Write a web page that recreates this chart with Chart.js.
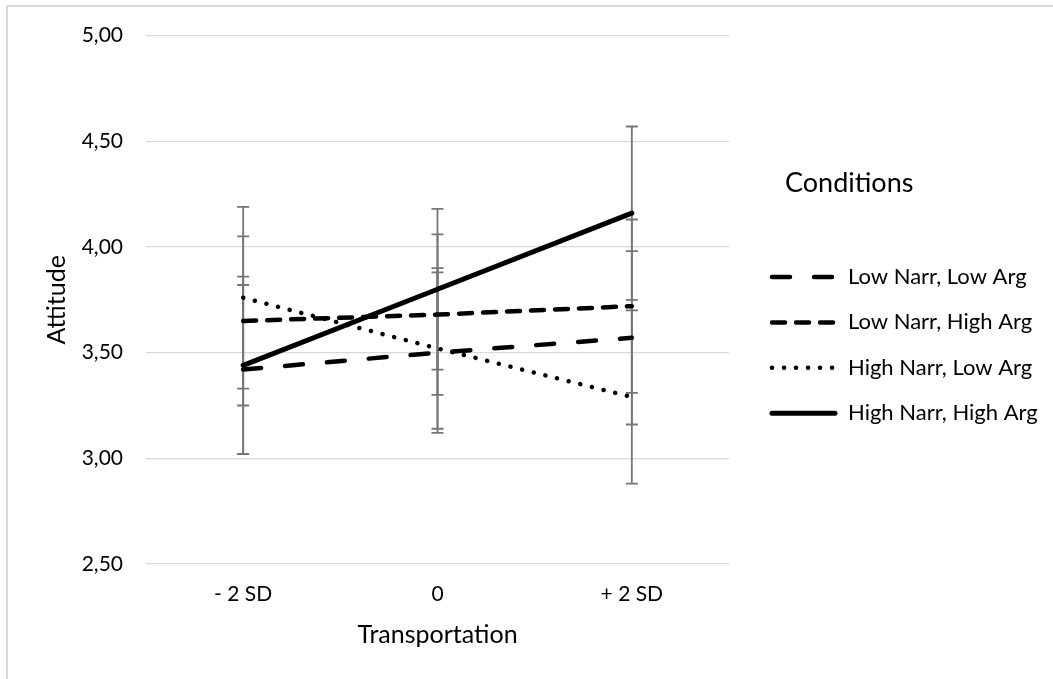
<!DOCTYPE html>
<html lang="en">
<head>
    <meta charset="UTF-8">
    <title>Attitude by Transportation</title>
    <script src="https://cdn.jsdelivr.net/npm/chart.js"></script>
    <style>
        html, body {
            margin: 0;
            padding: 0;
            background: #ffffff;
            overflow: hidden;
        }
        .frame {
            position: absolute;
            left: 6px;
            top: 5px;
            width: 1200px;
            height: 800px;
            border-left: 2px solid #d9d9d9;
            border-top: 2px solid #d9d9d9;
        }
        .chart {
            position: absolute;
            left: 0;
            top: 0;
            width: 1053px;
            height: 679px;
        }
    </style>
</head>
<body>
    <div class="frame"></div>
    <div class="chart">
        <canvas id="attitudeChart" width="1053" height="679"></canvas>
    </div>
    <script>
        const categories = ['- 2 SD', '0', '+ 2 SD'];
        const seriesNames = ['Low Narr, Low Arg', 'Low Narr, High Arg', 'High Narr, Low Arg', 'High Narr, High Arg'];

        const lowNarrLowArg = [3.42, 3.50, 3.57];
        const lowNarrHighArg = [3.65, 3.68, 3.72];
        const highNarrLowArg = [3.76, 3.52, 3.29];
        const highNarrHighArg = [3.44, 3.80, 4.16];

        // error bar half-widths (+/-)
        const lowNarrLowArgErr = [0.40, 0.38, 0.41];
        const lowNarrHighArgErr = [0.40, 0.38, 0.41];
        const highNarrLowArgErr = [0.43, 0.38, 0.41];
        const highNarrHighArgErr = [0.42, 0.38, 0.41];

        const yTicks = [2.5, 3.0, 3.5, 4.0, 4.5, 5.0];

        const FONT = 'Lato, "Open Sans", sans-serif';
        Chart.defaults.font.family = FONT;
        Chart.defaults.color = '#000000';

        // vertical error bars, drawn under the lines
        const errorBars = {
            id: 'errorBars',
            beforeDatasetsDraw(chart) {
                const ctx = chart.ctx;
                const yScale = chart.scales.y;
                ctx.save();
                ctx.strokeStyle = '#767676';
                ctx.lineWidth = 1.8;
                chart.data.datasets.forEach((ds, i) => {
                    const meta = chart.getDatasetMeta(i);
                    meta.data.forEach((pt, j) => {
                        const top = yScale.getPixelForValue(ds.data[j] + ds.errors[j]);
                        const bottom = yScale.getPixelForValue(ds.data[j] - ds.errors[j]);
                        ctx.beginPath();
                        ctx.moveTo(pt.x, top);
                        ctx.lineTo(pt.x, bottom);
                        ctx.moveTo(pt.x - 6, top);
                        ctx.lineTo(pt.x + 6, top);
                        ctx.moveTo(pt.x - 6, bottom);
                        ctx.lineTo(pt.x + 6, bottom);
                        ctx.stroke();
                    });
                });
                ctx.restore();
            }
        };

        // legend with title, laid out like the Excel one
        const sideLegend = {
            id: 'sideLegend',
            afterDraw(chart, args, opts) {
                const ctx = chart.ctx;
                ctx.save();
                ctx.fillStyle = '#000';
                ctx.textBaseline = 'middle';
                ctx.textAlign = 'left';
                ctx.font = '27px ' + FONT;
                ctx.fillText(opts.title, opts.titleX, opts.titleY);
                ctx.font = '22px ' + FONT;
                chart.data.datasets.forEach((ds, i) => {
                    const y = opts.top + i * opts.rowGap;
                    ctx.save();
                    ctx.strokeStyle = ds.borderColor;
                    ctx.lineWidth = ds.borderWidth;
                    ctx.lineCap = ds.borderCapStyle || 'butt';
                    ctx.setLineDash(ds.borderDash || []);
                    ctx.beginPath();
                    ctx.moveTo(opts.lineX, y);
                    ctx.lineTo(opts.lineX + opts.lineLen, y);
                    ctx.stroke();
                    ctx.restore();
                    ctx.fillText(ds.label, opts.textX, y);
                });
                ctx.restore();
            }
        };

        function series(label, data, errors, dash, width, cap) {
            return {
                label: label,
                data: data,
                errors: errors,
                borderColor: '#000000',
                backgroundColor: '#000000',
                borderWidth: width,
                borderDash: dash,
                borderCapStyle: cap,
                pointRadius: 0,
                pointHoverRadius: 0,
                tension: 0,
                fill: false
            };
        }

        const ctx = document.getElementById('attitudeChart').getContext('2d');
        new Chart(ctx, {
            type: 'line',
            data: {
                labels: categories,
                datasets: [
                    series(seriesNames[0], lowNarrLowArg, lowNarrLowArgErr, [18, 24], 4.5, 'round'),
                    series(seriesNames[1], lowNarrHighArg, lowNarrHighArgErr, [13, 11], 4.5, 'round'),
                    series(seriesNames[2], highNarrLowArg, highNarrLowArgErr, [0.1, 11.9], 4.5, 'round'),
                    series(seriesNames[3], highNarrHighArg, highNarrHighArgErr, [], 5, 'round')
                ]
            },
            options: {
                responsive: false,
                animation: false,
                events: [],
                layout: {
                    padding: { top: 35, right: 324, bottom: 0, left: 0 }
                },
                plugins: {
                    legend: { display: false },
                    tooltip: { enabled: false },
                    sideLegend: {
                        title: 'Conditions',
                        titleX: 785,
                        titleY: 183,
                        lineX: 772,
                        lineLen: 63,
                        textX: 848,
                        top: 277,
                        rowGap: 45.4
                    }
                },
                scales: {
                    x: {
                        offset: true,
                        grid: { display: false },
                        border: { display: false },
                        ticks: { padding: 10, font: { size: 21 } },
                        title: {
                            display: true,
                            text: 'Transportation',
                            font: { size: 25 },
                            padding: { top: 0, bottom: 29 }
                        },
                        afterFit(scale) { scale.height = 115; }
                    },
                    y: {
                        min: 2.5,
                        max: 5,
                        afterBuildTicks(scale) {
                            scale.ticks = yTicks.map(v => ({ value: v }));
                        },
                        grid: { color: '#d9d9d9', lineWidth: 1.3, drawTicks: false },
                        border: { display: false },
                        ticks: {
                            padding: 23,
                            font: { size: 21 },
                            callback: v => v.toFixed(2).replace('.', ',')
                        },
                        title: {
                            display: true,
                            text: 'Attitude',
                            font: { size: 25 },
                            padding: { top: 42, bottom: 0 }
                        },
                        afterFit(scale) { scale.width = 146; }
                    }
                }
            },
            plugins: [errorBars, sideLegend]
        });
    </script>
</body>
</html>
